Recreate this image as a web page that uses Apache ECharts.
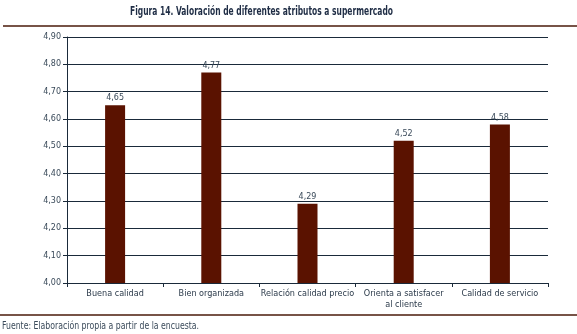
<!DOCTYPE html>
<html><head><meta charset="utf-8">
<script src="https://cdn.jsdelivr.net/npm/echarts@6/dist/echarts.min.js"></script>
<style>html,body{margin:0;padding:0;background:#fff}#c{width:577px;height:334px}</style>
</head><body><div id="c"></div>
<script>
const categories = ["Buena calidad","Bien organizada","Relación calidad precio","Orienta a satisfacer\nal cliente","Calidad de servicio"];
const values = [4.65, 4.77, 4.29, 4.52, 4.58];
const titleText = "Figura 14. Valoración de diferentes atributos a supermercado";
const sourceText = "Fuente: Elaboración propia a partir de la encuesta.";
const fmt = v => v.toFixed(2).replace('.', ',');
const ctx = document.createElement('canvas').getContext('2d');
function fitScale(text, font, w){ ctx.font = font; return w / ctx.measureText(text).width; }
const titleFont = 'bold 13px "DejaVu Sans Condensed",sans-serif';
const srcFont = '10px "DejaVu Sans Condensed",sans-serif';
const tS = fitScale(titleText, titleFont, 263);
const sS = fitScale(sourceText, srcFont, 197);
const chart = echarts.init(document.getElementById('c'));
chart.setOption({
  animation:false,
  grid:{left:67,right:29,top:37,bottom:51},
  graphic:[
    {type:'text',x:130,y:5,scaleX:tS,style:{text:titleText,font:titleFont,fill:'#1f2d45'}},
    {type:'line',shape:{x1:3,y1:26,x2:577,y2:26},style:{stroke:'#4a1a0a',lineWidth:1.5}},
    {type:'line',shape:{x1:0,y1:315,x2:577,y2:315},style:{stroke:'#4a1a0a',lineWidth:1.5}},
    {type:'text',x:2,y:321,scaleX:sS,style:{text:sourceText,font:srcFont,fill:'#3a4a5a'}}
  ],
  xAxis:{type:'category',data:categories,
    axisLine:{lineStyle:{color:'#1a2a3a',width:1}},
    axisTick:{show:true,length:4,lineStyle:{color:'#1a2a3a'}},
    axisLabel:{color:'#2b3a4a',fontSize:9,fontFamily:'"DejaVu Sans Condensed",sans-serif',margin:5,interval:0,lineHeight:11}},
  yAxis:{type:'value',min:4,max:4.9,interval:0.1,
    axisLine:{show:true,lineStyle:{color:'#1a2a3a'}},
    axisTick:{show:true,length:4,lineStyle:{color:'#1a2a3a'}},
    splitLine:{lineStyle:{color:'#1a2a3a',width:1}},
    axisLabel:{color:'#3a4a5a',fontSize:8,fontFamily:'"DejaVu Sans",sans-serif',margin:6,formatter:fmt}},
  series:[{type:'bar',data:values,barWidth:20,itemStyle:{color:'#5a1200'},
    label:{show:true,position:'top',distance:3,color:'#3a4a5a',fontSize:8,fontFamily:'"DejaVu Sans",sans-serif',formatter:p=>fmt(p.value)}}]
});
</script></body></html>
